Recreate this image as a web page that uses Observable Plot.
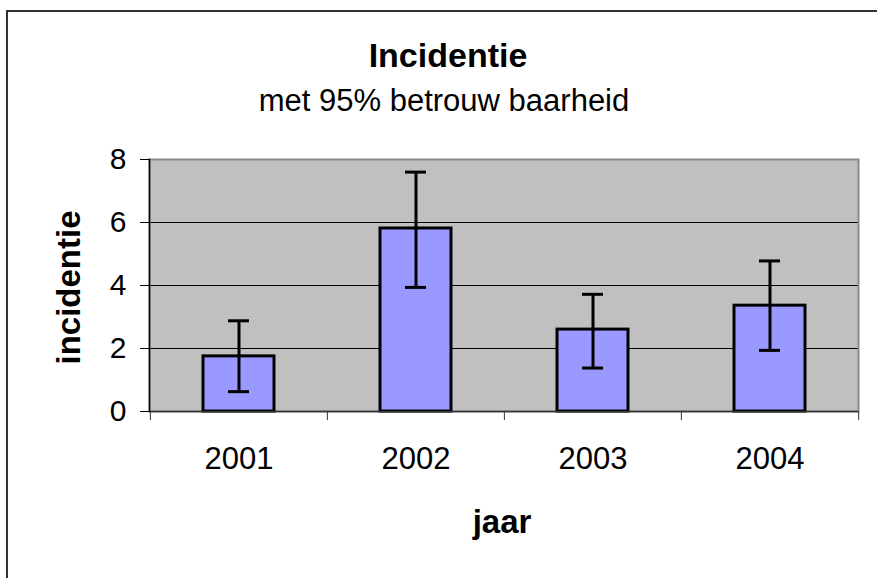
<!DOCTYPE html>
<html>
<head>
<meta charset="utf-8">
<script src="https://cdn.jsdelivr.net/npm/d3@7"></script>
<script src="https://cdn.jsdelivr.net/npm/@observablehq/plot@0.6"></script>
<style>
  html, body { margin: 0; padding: 0; background: white; }
  #wrap { position: relative; width: 877px; height: 578px; overflow: hidden; background: white; }
  #border { position: absolute; left: 6px; top: 10px; width: 1000px; height: 1000px;
            border-left: 2px solid #333; border-top: 2px solid #333; pointer-events: none; z-index: 2; }
  #chart { position: absolute; left: 0; top: 0; }
  #chart svg { background: transparent !important; }
</style>
</head>
<body>
<div id="wrap"><div id="chart"></div><div id="border"></div></div>
<script>
const years = ["2001", "2002", "2003", "2004"];
const incidence = [1.75, 5.81, 2.60, 3.36];
const lower = [0.63, 3.94, 1.38, 1.94];
const upper = [2.88, 7.60, 3.72, 4.78];
const yTicks = [0, 2, 4, 6, 8];
const gridValues = [2, 4, 6];
const titleText = "Incidentie";
const subtitleText = "met 95% betrouw baarheid";
const xLabel = "jaar";
const yLabel = "incidentie";

const data = years.map((y, i) => ({year: y, value: incidence[i], lo: lower[i], hi: upper[i]}));
const font = "'Liberation Sans', Arial, Helvetica, sans-serif";
const half = (877 - 149 - 19) / 4 / 2;

const chart = Plot.plot({
  width: 877,
  height: 578,
  marginLeft: 149,
  marginRight: 19,
  marginTop: 159,
  marginBottom: 167,
  style: {fontFamily: font, color: "black", background: "transparent"},
  x: {domain: years, paddingInner: 0.6, paddingOuter: 0.3},
  y: {domain: [0, 8]},
  marks: [
    Plot.frame({fill: "#c0c0c0"}),
    Plot.ruleY(gridValues, {stroke: "black", strokeWidth: 1}),
    Plot.frame({stroke: "#8a8a8a", strokeWidth: 2}),
    Plot.barY(data, {x: "year", y: "value", fill: "#9999ff", stroke: "black", strokeWidth: 3}),
    Plot.ruleX(data, {x: "year", y1: "lo", y2: "hi", stroke: "black", strokeWidth: 3}),
    Plot.tickY(data, {x: "year", y: "lo", stroke: "black", strokeWidth: 3, insetLeft: 25, insetRight: 25}),
    Plot.tickY(data, {x: "year", y: "hi", stroke: "black", strokeWidth: 3, insetLeft: 25, insetRight: 25}),
    Plot.ruleY([0], {stroke: "#333", strokeWidth: 1.5}),
    Plot.frame({anchor: "left", stroke: "black", strokeWidth: 1.5}),
    // x tick marks at category boundaries
    Plot.ruleX(years, {x: d => d, dx: -half, insetTop: 252, insetBottom: -9, stroke: "#333", strokeWidth: 1}),
    Plot.ruleX(years.slice(-1), {x: d => d, dx: half, insetTop: 252, insetBottom: -9, stroke: "#333", strokeWidth: 1}),
    Plot.axisY(yTicks, {tickSize: 9, tickPadding: 14, fontSize: 30, label: null, stroke: "black"}),
    Plot.axisX(years, {tickSize: 0, tickPadding: 35, fontSize: 31, label: null}),
    Plot.text([titleText], {frameAnchor: "top", lineAnchor: "bottom", dx: -56, dy: -93, fontSize: 34, fontWeight: "bold", fill: "black"}),
    Plot.text([subtitleText], {frameAnchor: "top", lineAnchor: "bottom", dx: -60, dy: -49, fontSize: 31, fill: "black"}),
    Plot.text([xLabel], {frameAnchor: "bottom", lineAnchor: "bottom", dx: -2, dy: 121, fontSize: 33, fontWeight: "bold", fill: "black"}),
    Plot.text([yLabel], {frameAnchor: "left", textAnchor: "middle", lineAnchor: "middle", rotate: -90, dx: -80, dy: 2, fontSize: 33, fontWeight: "bold", fill: "black"})
  ]
});
document.getElementById("chart").appendChild(chart);
</script>
</body>
</html>
